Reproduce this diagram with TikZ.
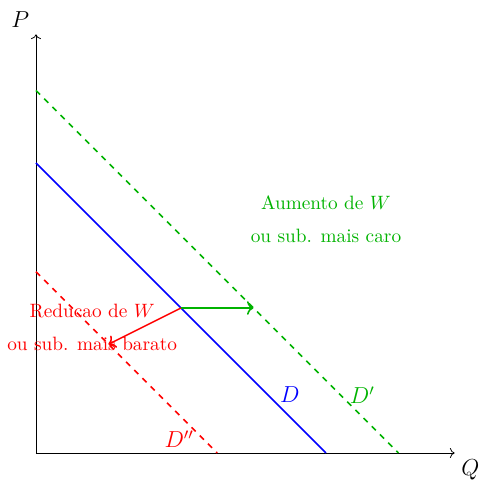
\documentclass[tikz,border=0pt]{standalone}
\usepackage{tikz}
\usetikzlibrary{arrows.meta,positioning}
\definecolor{shift_green}{RGB}{0,179,0}

\begin{document}
\begin{tikzpicture}[x=0.66cm, y=0.66cm,
    curve/.style={thick},
    shiftcurve/.style={thick, dashed},
    shiftarrow/.style={->, thick},
    axislabel/.style={font=\large}]
        \useasboundingbox (-0.993,-0.828) rectangle (12.359,12.497);
        % Axes
        \coordinate (origin) at (0,0);
        \coordinate (qend) at (11.55,0);
        \coordinate (pend) at (0,11.55);
        \draw[->] (origin) -- (qend) node[axislabel, below right] (qlabel) {$Q$};
        \draw[->] (origin) -- (pend) node[axislabel, above left] (plabel) {$P$};
        % Demand curves
        \coordinate (dtop) at (0,8);
        \coordinate (dbot) at (8,0);
        \coordinate (uptop) at (0,10);
        \coordinate (upbot) at (10,0);
        \coordinate (downtop) at (0,5);
        \coordinate (downbot) at (5,0);
        \draw[curve, blue] (dtop) -- (dbot);
        \draw[shiftcurve, shift_green] (uptop) -- (upbot);
        \draw[shiftcurve, red] (downtop) -- (downbot);
        \node[axislabel, blue] (dlabel) at (7,1.6) {$D$};
        \node[axislabel, shift_green] (uplabel) at (9,1.6) {$D'$};
        \node[axislabel, red] (downlabel) at (3.95,0.38) {$D''$};
        % Shifts
        \coordinate (start) at (4,4);
        \coordinate (upend) at (6,4);
        \coordinate (downend) at (2,3);
        \draw[shiftarrow, shift_green] (start) -- (upend);
        \draw[shiftarrow, red] (start) -- (downend);
        \node[shift_green, align=center] (uptext) at (8,6.45)
          {Aumento de $W$\\[0.5em]ou sub. mais caro};
        \node[red, align=center] (downtext) at (1.55,3.47)
          {Reducao de $W$\\[0.5em]ou sub. mais barato};
      \end{tikzpicture}
\end{document}
